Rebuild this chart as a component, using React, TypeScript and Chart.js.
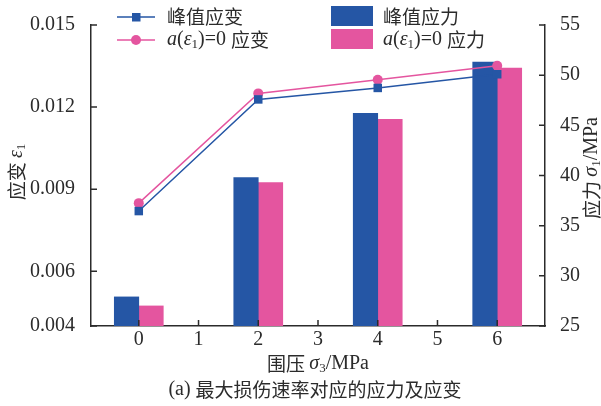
import React, { useEffect, useRef } from "react";
import { Chart, registerables } from "chart.js";

Chart.register(...registerables);

// Confining pressure (MPa) for each test
const pressures = [0, 2, 4, 6];
// Strain values (left axis)
const peakStrain = [0.0082, 0.01228, 0.0127, 0.0132];
const zeroRateStrain = [0.00849, 0.0125, 0.013, 0.01351];
// Stress values in MPa (right axis)
const peakStress = [27.9, 39.8, 46.2, 51.3];
const zeroRateStress = [27.0, 39.3, 45.6, 50.7];

// Tick values
const xTicks = [0, 1, 2, 3, 4, 5, 6];
const strainTicks = [0.004, 0.006, 0.009, 0.012, 0.015];
const stressTicks = [25, 30, 35, 40, 45, 50, 55];

// Labels
const seriesNames = ["峰值应变", "应变", "峰值应力", "应力"];
const xTitle = "围压";
const caption = "最大损伤速率对应的应力及应变";

const BLUE = "#2556A5";
const PINK = "#E4559F";
const INK = "#2b2b2b";
const SERIF = '"Liberation Serif", "Times New Roman", serif';
const CJK = '"Noto Sans CJK SC", sans-serif';

type Seg = { t: string; font: string; dy?: number };

const cjk = (t: string): Seg => ({ t, font: `19px ${CJK}` });
const rom = (t: string): Seg => ({ t, font: `20px ${SERIF}` });
const ital = (t: string): Seg => ({ t, font: `italic 20px ${SERIF}` });
const sub = (t: string): Seg => ({ t, font: `13px ${SERIF}`, dy: 5 });

function segWidth(ctx: CanvasRenderingContext2D, segs: Seg[]) {
  let w = 0;
  for (const s of segs) {
    ctx.font = s.font;
    w += ctx.measureText(s.t).width;
  }
  return w;
}

function drawSegs(
  ctx: CanvasRenderingContext2D,
  segs: Seg[],
  x: number,
  y: number,
  align: "left" | "center"
) {
  let cx = align === "center" ? x - segWidth(ctx, segs) / 2 : x;
  ctx.textAlign = "left";
  ctx.textBaseline = "middle";
  for (const s of segs) {
    ctx.font = s.font;
    ctx.fillText(s.t, cx, y + (s.dy || 0));
    cx += ctx.measureText(s.t).width;
  }
}

const zeroRateLabel = (suffix: string): Seg[] => [
  ital("a"),
  rom("("),
  ital("ε"),
  sub("1"),
  rom(")=0 "),
  cjk(suffix),
];

const decorPlugin = {
  id: "decor",
  afterDraw(chart: any) {
    const ctx: CanvasRenderingContext2D = chart.ctx;
    const { left, right, top, bottom } = chart.chartArea;
    const sx = chart.scales.x;
    const sy = chart.scales.y;
    const sy1 = chart.scales.y1;
    ctx.save();

    // inward tick marks
    ctx.strokeStyle = INK;
    ctx.lineWidth = 1.5;
    ctx.beginPath();
    for (const v of xTicks) {
      const px = sx.getPixelForValue(v);
      ctx.moveTo(px, bottom);
      ctx.lineTo(px, bottom - 6);
    }
    for (const v of strainTicks) {
      const py = sy.getPixelForValue(v);
      ctx.moveTo(left, py);
      ctx.lineTo(left + 6, py);
    }
    for (const v of stressTicks) {
      const py = sy1.getPixelForValue(v);
      ctx.moveTo(right, py);
      ctx.lineTo(right - 6, py);
    }
    ctx.stroke();

    ctx.fillStyle = INK;

    // axis titles
    ctx.save();
    ctx.translate(17, 172);
    ctx.rotate(-Math.PI / 2);
    drawSegs(ctx, [cjk("应变 "), ital("ε"), sub("1")], 0, 0, "center");
    ctx.restore();

    ctx.save();
    ctx.translate(592, 168);
    ctx.rotate(-Math.PI / 2);
    drawSegs(ctx, [cjk("应力 "), ital("σ"), sub("1"), rom("/MPa")], 0, 0, "center");
    ctx.restore();

    const midX = (left + right) / 2;
    drawSegs(ctx, [cjk(xTitle + " "), ital("σ"), sub("3"), rom("/MPa")], midX, 364, "center");
    drawSegs(ctx, [rom("(a) "), cjk(caption)], midX - 3, 390, "center");

    // legend: line series
    const rows = [17, 40];
    ctx.lineWidth = 1.5;
    ctx.strokeStyle = BLUE;
    ctx.beginPath();
    ctx.moveTo(117, rows[0]);
    ctx.lineTo(155, rows[0]);
    ctx.stroke();
    ctx.fillStyle = BLUE;
    ctx.fillRect(132, rows[0] - 4, 8.5, 8.5);
    ctx.strokeStyle = PINK;
    ctx.beginPath();
    ctx.moveTo(117, rows[1]);
    ctx.lineTo(155, rows[1]);
    ctx.stroke();
    ctx.fillStyle = PINK;
    ctx.beginPath();
    ctx.arc(136, rows[1], 5, 0, Math.PI * 2);
    ctx.fill();

    ctx.fillStyle = INK;
    drawSegs(ctx, [cjk(seriesNames[0])], 167, rows[0], "left");
    drawSegs(ctx, zeroRateLabel(seriesNames[1]), 167, rows[1], "left");

    // legend: bar series
    ctx.fillStyle = BLUE;
    ctx.fillRect(331, 6, 42, 20);
    ctx.fillStyle = PINK;
    ctx.fillRect(331, 29, 42, 20);
    ctx.fillStyle = INK;
    drawSegs(ctx, [cjk(seriesNames[2])], 383, rows[0], "left");
    drawSegs(ctx, zeroRateLabel(seriesNames[3]), 383, rows[1], "left");

    ctx.restore();
  },
};

export default function App() {
  const ref = useRef<HTMLCanvasElement>(null);

  useEffect(() => {
    if (!ref.current) return;
    const pts = (ys: number[]) => pressures.map((x, i) => ({ x, y: ys[i] }));
    const chart = new Chart(ref.current, {
      type: "bar",
      data: {
        datasets: [
          {
            type: "line",
            label: seriesNames[0],
            data: pts(peakStrain),
            yAxisID: "y",
            borderColor: BLUE,
            backgroundColor: BLUE,
            borderWidth: 1.5,
            pointStyle: "rect",
            pointRadius: 6,
            pointBorderWidth: 0,
            order: 0,
          } as any,
          {
            type: "line",
            label: seriesNames[1],
            data: pts(zeroRateStrain),
            yAxisID: "y",
            borderColor: PINK,
            backgroundColor: PINK,
            borderWidth: 1.5,
            pointStyle: "circle",
            pointRadius: 5,
            pointBorderWidth: 0,
            order: 0,
          } as any,
          {
            type: "bar",
            label: seriesNames[2],
            data: pts(peakStress),
            yAxisID: "y1",
            backgroundColor: BLUE,
            barThickness: 24.5,
            base: 25,
            order: 1,
          } as any,
          {
            type: "bar",
            label: seriesNames[3],
            data: pts(zeroRateStress),
            yAxisID: "y1",
            backgroundColor: PINK,
            barThickness: 24.5,
            base: 25,
            order: 1,
          } as any,
        ],
      },
      options: {
        responsive: false,
        animation: false,
        layout: { padding: { left: 0, right: 0, top: 25, bottom: 0 } },
        plugins: { legend: { display: false }, tooltip: { enabled: false } },
        scales: {
          x: {
            type: "linear",
            offset: false,
            min: -0.8,
            max: 6.8,
            afterBuildTicks: (s: any) => {
              s.ticks = xTicks.map((value) => ({ value }));
            },
            afterFit: (s: any) => {
              s.height = 80;
            },
            grid: { display: false, offset: false },
            border: { display: true, color: INK, width: 1.5 },
            ticks: {
              color: INK,
              font: { family: SERIF, size: 20 },
              padding: -6,
              callback: (v: any) => String(v),
            },
          },
          y: {
            position: "left",
            min: 0.004,
            max: 0.015,
            afterBuildTicks: (s: any) => {
              s.ticks = strainTicks.map((value) => ({ value }));
            },
            afterFit: (s: any) => {
              s.width = 91;
            },
            grid: { display: false },
            border: { display: true, color: INK, width: 1.5 },
            ticks: {
              color: INK,
              font: { family: SERIF, size: 20 },
              padding: 8,
              callback: (v: any) => Number(v).toFixed(3),
            },
          },
          y1: {
            position: "right",
            min: 25,
            max: 55,
            afterBuildTicks: (s: any) => {
              s.ticks = stressTicks.map((value) => ({ value }));
            },
            afterFit: (s: any) => {
              s.width = 56;
            },
            grid: { display: false },
            border: { display: true, color: INK, width: 1.5 },
            ticks: {
              color: INK,
              font: { family: SERIF, size: 20 },
              padding: 7,
              callback: (v: any) => String(v),
            },
          },
        },
      },
      plugins: [decorPlugin],
    });
    return () => chart.destroy();
  }, []);

  return (
    <div style={{ position: "absolute", left: 0, top: 0, width: 601, height: 406, background: "#fff" }}>
      <canvas ref={ref} width={601} height={406} />
    </div>
  );
}
